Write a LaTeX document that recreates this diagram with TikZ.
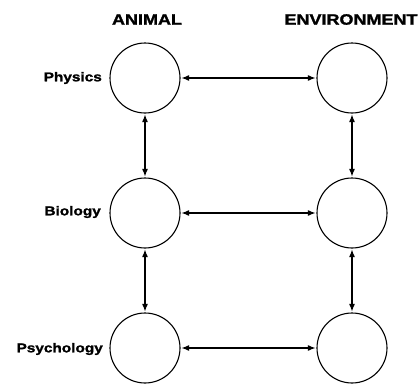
\documentclass[tikz,border=0pt]{standalone}
\usepackage{fontspec}
\newfontfamily\widefont[FakeStretch=1.2,FakeBold=1.5]{Liberation Sans}
\usetikzlibrary{arrows.meta,positioning}

\begin{document}
\begin{tikzpicture}[
  x=1pt, y=-1pt,
  >={Latex[length=8pt,width=6pt]},
  head/.style={font=\widefont\bfseries\fontsize{15}{15}\selectfont, inner sep=0pt},
  lab/.style={font=\widefont\bfseries\fontsize{12.8}{13}\selectfont, anchor=east, inner sep=0pt},
  ball/.style={circle, draw=black, line width=1.1pt, minimum size=70pt, inner sep=0pt},
  arr/.style={<->, draw=black, line width=1.8pt, shorten <=0.5pt, shorten >=0.5pt}
]
\useasboundingbox (0,0) rectangle (420,383);
% --- Spalten ---
\node[head] (hA) at (147,19.5) {ANIMAL};
\node[head] (hE) at (351,19.5) {ENVIRONMENT};
% --- Kreise ---
\node[ball] (a1) at (145,78)  {};
\node[ball] (a2) at (145,213) {};
\node[ball] (a3) at (145,348) {};
\node[ball] (e1) at (352,78)  {};
\node[ball] (e2) at (352,213) {};
\node[ball] (e3) at (352,348) {};
% --- Zeilen ---
\node[lab] (lPhy) at (102,78)  {Physics};
\node[lab] (lBio) at (101,212) {Biology};
\node[lab] (lPsy) at (103,349) {Psychology};
% --- Pfeile ---
\draw[arr] (a1)--(e1); \draw[arr] (a2)--(e2); \draw[arr] (a3)--(e3);
\draw[arr] (a1)--(a2); \draw[arr] (a2)--(a3);
\draw[arr] (e1)--(e2); \draw[arr] (e2)--(e3);
\end{tikzpicture}
\end{document}
